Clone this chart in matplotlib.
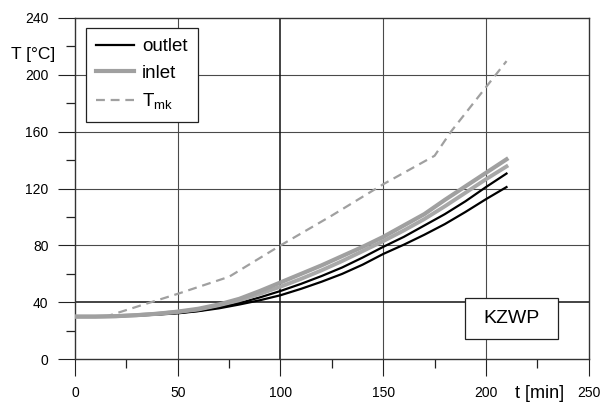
import matplotlib
matplotlib.use("Agg")
import matplotlib.pyplot as plt
from matplotlib.patches import Rectangle
from matplotlib.ticker import MultipleLocator

plt.rcParams['font.family'] = ['Liberation Sans', 'DejaVu Sans']
plt.rcParams['mathtext.fontset'] = 'custom'
plt.rcParams['mathtext.rm'] = 'Liberation Sans'
plt.rcParams['mathtext.it'] = 'Liberation Sans'

# ---- data ----
t = [0, 10, 20, 30, 40, 50, 60, 70, 80, 90, 100, 110, 120, 130, 140, 150,
     160, 170, 180, 190, 200, 210]
inlet_1 = [30, 30, 30.3, 31, 32, 33.5, 35.5, 38.5, 42.5, 48, 54, 60, 66, 72.5,
           79, 86, 94, 102, 112, 121.5, 131, 140.5]
inlet_2 = [30, 30, 30.3, 31, 32, 33.3, 35, 38, 41.5, 46, 51, 56.5, 62.5, 69,
           76, 83, 90.5, 98.5, 107.5, 117, 126.5, 135.5]
outlet_1 = [30, 30, 30.2, 30.8, 31.6, 32.6, 34, 36.5, 39.5, 43.5, 48, 53, 58.5,
            64.5, 71.5, 79, 86, 94, 102, 111, 121, 130.5]
outlet_2 = [30, 30, 30.2, 30.7, 31.4, 32.3, 33.8, 35.8, 38.5, 41.5, 45, 49.5,
            54.5, 60, 66.5, 74, 80.5, 87.5, 95, 103.5, 112.5, 121]
t_mk = [0, 15, 35, 50, 75, 100, 125, 150, 175, 183, 204, 210]
T_mk = [30, 30, 39.2, 46, 58, 80, 101, 123, 143, 160, 198.5, 209.5]

x_ticks = [0, 50, 100, 150, 200, 250]
y_ticks = [0, 40, 80, 120, 160, 200, 240]

fig = plt.figure(figsize=(6.03, 4.03), dpi=100)
ax = fig.add_axes([75 / 603, 43.7 / 403, 513.7 / 603, 341.6 / 403])
ax.set_xlim(0, 250)
ax.set_ylim(0, 240)

ax.set_xticks(x_ticks)
ax.set_yticks(y_ticks)
ax.xaxis.set_minor_locator(MultipleLocator(25))
ax.yaxis.set_minor_locator(MultipleLocator(20))
ax.tick_params(which='major', direction='out', length=12.5, width=0.8,
               color='#222222', labelsize=10, pad=6.5)
ax.tick_params(which='minor', direction='out', length=6.5, width=0.9,
               color='#222222')
ax.tick_params(axis='x', which='major', pad=7)

for s in ax.spines.values():
    s.set_color('#333333')
    s.set_linewidth(1.0)

# grid
for xv in [50, 150, 200]:
    ax.axvline(xv, color='#4a4a4a', lw=0.8, zorder=1)
for yv in [80, 120, 160, 200]:
    ax.axhline(yv, color='#4a4a4a', lw=0.8, zorder=1)
ax.axvline(100, color='#111111', lw=1.1, zorder=1)
ax.axhline(40, color='#111111', lw=1.1, zorder=1)

# curves
ax.plot(t_mk, T_mk, color='#a0a0a0', lw=1.6, dashes=(4, 2.6), zorder=3,
        label='T$_{\\mathrm{mk}}$')
ax.plot(t, outlet_2, color='black', lw=1.6, zorder=4)
ax.plot(t, outlet_1, color='black', lw=1.6, zorder=4, label='outlet')
ax.plot(t, inlet_2, color='#a8a8a8', lw=2.8, zorder=5)
ax.plot(t, inlet_1, color='#a0a0a0', lw=3.0, zorder=5, label='inlet')

handles, labels = ax.get_legend_handles_labels()
order = [labels.index('outlet'), labels.index('inlet'), labels.index('T$_{\\mathrm{mk}}$')]
leg = ax.legend([handles[i] for i in order], [labels[i] for i in order],
                loc='upper left', bbox_to_anchor=(0.0214, 0.970),
                borderaxespad=0, fontsize=13.5, handlelength=2.0,
                handletextpad=0.45, labelspacing=0.5, borderpad=0.55,
                fancybox=False, framealpha=1, edgecolor='#222222')
leg.get_frame().set_linewidth(0.9)
leg.set_zorder(10)

# KZWP box
ax.add_patch(Rectangle((189.9, 14.3), 45.1, 28.6, facecolor='white',
                       edgecolor='#222222', lw=0.9, zorder=8))
ax.text(212.4, 28.5, 'KZWP', fontsize=14, ha='center', va='center', zorder=9)

# axis labels
fig.text(33.5 / 603, 1 - 54 / 403, 'T [°C]', fontsize=12.5, ha='center', va='center')
fig.text(540 / 603, 1 - 394 / 403, 't [min]', fontsize=13, ha='center', va='center')

fig.savefig('out.png', dpi=100)
